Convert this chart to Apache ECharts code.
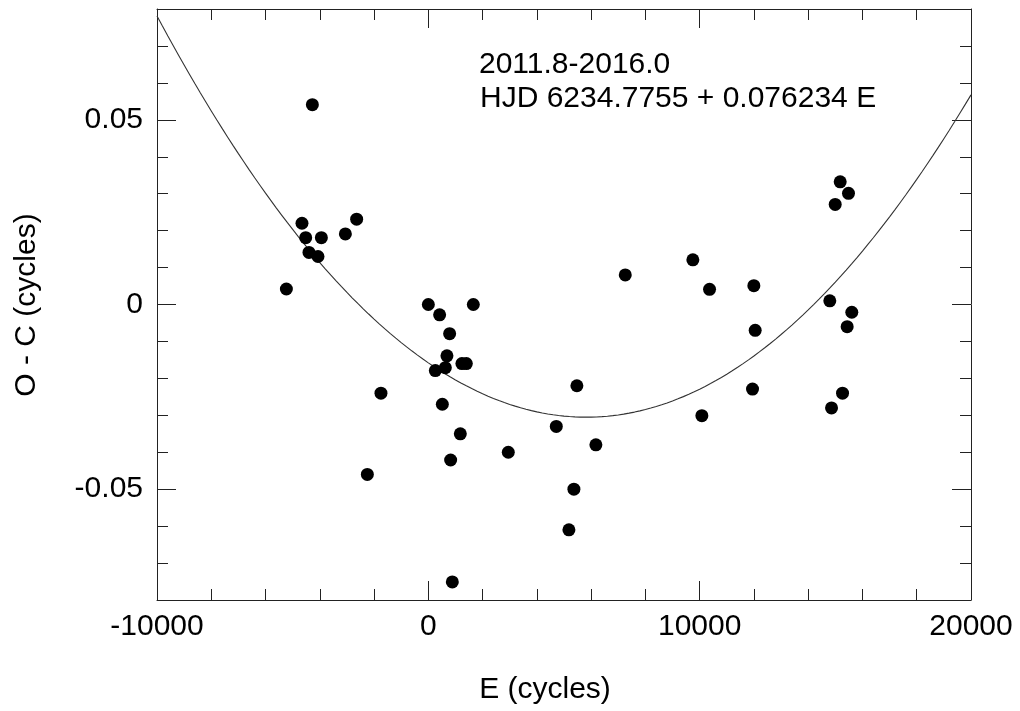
<!DOCTYPE html>
<html>
<head>
<meta charset="utf-8">
<script src="https://cdn.jsdelivr.net/npm/echarts@6/dist/echarts.min.js"></script>
<style>
html,body{margin:0;padding:0;background:#fff;}
#chart{width:1020px;height:711px;}
</style>
</head>
<body>
<div id="chart"></div>
<script>
// ---- data ----
var epochE = [-5232,-4657,-4520,-4399,-4274,-4067,-3942,-3058,-2642,-2248,-1746,
  0,258,416,516,626,686,785,822,884,1179,1238,1400,1658,2947,
  4716,5181,5365,5475,6175,7258,9749,10081,10364,11948,11997,12046,
  14796,14860,14995,15179,15265,15436,15485,15607];
var ocCycles = [0.0042,0.0220,0.0181,0.0141,0.0541,0.0130,0.0181,0.0191,0.0231,-0.0460,-0.0240,
  0.0000,-0.0179,-0.0028,-0.0270,-0.0171,-0.0139,-0.0079,-0.0421,-0.0751,-0.0350,-0.0160,-0.0160,0.0000,-0.0400,
  -0.0330,-0.0610,-0.0500,-0.0220,-0.0380,0.0080,0.0121,-0.0301,0.0041,-0.0229,0.0051,-0.0070,
  0.0010,-0.0280,0.0271,0.0332,-0.0240,-0.0060,0.0301,-0.0021];
// quadratic ephemeris fit (vertex form)
var fitVertexE = 5821;
var fitVertexOC = -0.0305;
var fitCurvature = 4.34e-10;
var xTickLabels = [-10000, 0, 10000, 20000];
var yTickLabels = [-0.05, 0, 0.05];
var annotationLines = ['2011.8-2016.0', 'HJD 6234.7755 + 0.076234 E'];
var xTitle = 'E (cycles)';
var yTitle = 'O - C (cycles)';

var points = epochE.map(function (e, i) { return [e, ocCycles[i]]; });
var fitCurve = [];
for (var e = -10000; e <= 20000; e += 200) {
  fitCurve.push([e, fitVertexOC + fitCurvature * (e - fitVertexE) * (e - fitVertexE)]);
}

var FONT = '"Liberation Sans", Arial, sans-serif';
var AX = '#222';
function xAx(pos, major, labels) {
  var o = {
    type: 'value', position: pos, min: -10000, max: 20000,
    interval: major ? 10000 : 2000,
    axisLine: { show: major, onZero: false, lineStyle: { color: AX, width: 1 } },
    axisTick: { show: true, inside: true, length: major ? 19 : 11, lineStyle: { color: AX, width: 1 } },
    axisLabel: { show: labels, fontSize: 30, fontFamily: FONT, color: '#000', margin: 12,
      formatter: function (v) { return String(v); } },
    splitLine: { show: false }
  };
  if (labels) o.axisLabel.customValues = xTickLabels;
  return o;
}
function yAx(pos, major, labels) {
  var o = {
    type: 'value', position: pos, min: -0.08, max: 0.08, interval: 0.01,
    axisLine: { show: major, onZero: false, lineStyle: { color: AX, width: 1 } },
    axisTick: { show: true, inside: true, length: major ? 19 : 11, lineStyle: { color: AX, width: 1 } },
    axisLabel: { show: labels, fontSize: 30, fontFamily: FONT, color: '#000', margin: 14 },
    splitLine: { show: false }
  };
  if (major) {
    o.axisTick.customValues = yTickLabels;
    o.axisLabel.customValues = yTickLabels;
    o.axisLabel.formatter = function (v) { return String(Math.round(v * 100) / 100); };
  }
  return o;
}

var chart = echarts.init(document.getElementById('chart'), null, { renderer: 'canvas' });
chart.setOption({
  backgroundColor: '#fff',
  animation: false,
  grid: { left: 157, top: 9, right: 49, bottom: 111, containLabel: false },
  xAxis: [xAx('bottom', true, true), xAx('bottom', false, false), xAx('top', true, false), xAx('top', false, false)],
  yAxis: [yAx('left', true, true), yAx('left', false, false), yAx('right', true, false), yAx('right', false, false)],
  series: [
    { type: 'line', data: fitCurve, showSymbol: false, symbol: 'none', smooth: false,
      lineStyle: { color: '#333', width: 1.1 }, xAxisIndex: 0, yAxisIndex: 0, z: 2 },
    { type: 'scatter', data: points, symbol: 'circle', symbolSize: 13,
      itemStyle: { color: '#000', opacity: 1 }, xAxisIndex: 0, yAxisIndex: 0, z: 3 }
  ],
  graphic: [
    { type: 'text', left: 479, top: 50, style: { text: annotationLines[0], font: '30px ' + FONT, fill: '#000' } },
    { type: 'text', left: 480, top: 84, style: { text: annotationLines[1], font: '30px ' + FONT, fill: '#000' } },
    { type: 'text', x: 545, y: 690, style: { text: xTitle, font: '30px ' + FONT, fill: '#000', align: 'center', verticalAlign: 'middle' } },
    { type: 'text', x: 27, y: 305, rotation: Math.PI / 2, style: { text: yTitle, font: '30px ' + FONT, fill: '#000', align: 'center', verticalAlign: 'middle' } }
  ]
});
</script>
</body>
</html>
